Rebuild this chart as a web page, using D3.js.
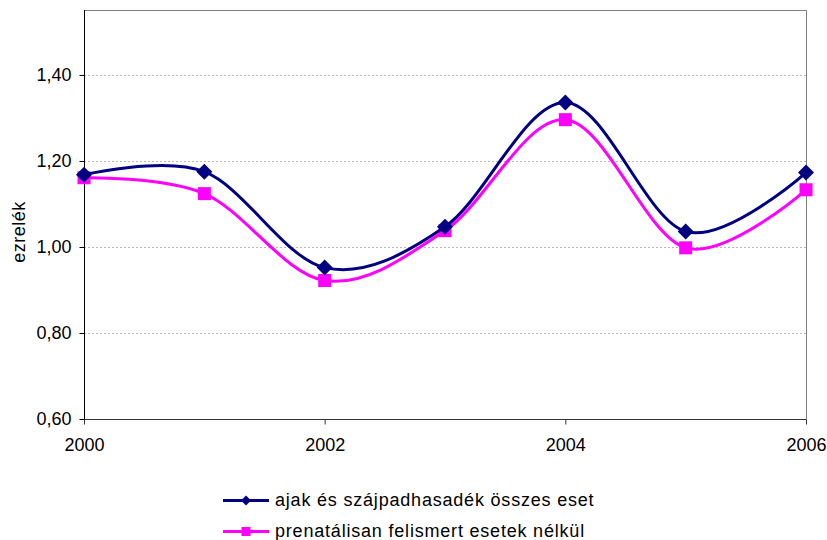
<!DOCTYPE html>
<html>
<head>
<meta charset="utf-8">
<script src="https://cdn.jsdelivr.net/npm/d3@7"></script>
<style>
  body { margin: 0; background: #fff; }
  svg { display: block; font-family: "Liberation Sans", Arial, sans-serif; }
</style>
</head>
<body>
<svg id="chart" width="827" height="540"></svg>
<script>
// Years on the x axis
const years = [2000, 2001, 2002, 2003, 2004, 2005, 2006];
// Rate per thousand births
const totalCases = [1.168, 1.175, 0.952, 1.047, 1.336, 1.036, 1.173];
const withoutPrenatal = [1.161, 1.124, 0.922, 1.038, 1.296, 0.998, 1.133];
const seriesNames = ["ajak és szájpadhasadék összes eset", "prenatálisan felismert esetek nélkül"];
const yTicks = [0.6, 0.8, 1.0, 1.2, 1.4];
const xTicks = [2000, 2002, 2004, 2006];

const svg = d3.select("#chart");
const plotLeft = 84, plotRight = 806, plotTop = 10, plotBottom = 419;
const fontFamily = "Liberation Sans, Arial, sans-serif";

const x = d3.scaleLinear().domain([2000, 2006]).range([plotLeft, plotRight]);
const y = d3.scaleLinear().domain([0.6, 1.551]).range([plotBottom, plotTop]);
const fmt = v => d3.format(".2f")(v).replace(".", ",");

// Gridlines
svg.append("g").selectAll("line")
  .data(yTicks.filter(v => v > 0.6))
  .join("line")
  .attr("x1", plotLeft).attr("x2", plotRight)
  .attr("y1", d => Math.round(y(d)) + 0.5).attr("y2", d => Math.round(y(d)) + 0.5)
  .attr("stroke", "#b8b8b8").attr("stroke-width", 1).attr("stroke-dasharray", "2,2");

// Top and right frame
svg.append("path")
  .attr("d", `M${plotLeft},${plotTop + 0.5}H${plotRight + 0.5}V${plotBottom}`)
  .attr("fill", "none").attr("stroke", "#808080").attr("stroke-width", 1);

// Y axis
const yAxis = svg.append("g")
  .attr("transform", `translate(${plotLeft + 0.5},0)`)
  .call(d3.axisLeft(y).tickValues(yTicks).tickFormat(fmt).tickSize(5).tickPadding(8));
yAxis.select(".domain").attr("stroke", "#000").attr("d", `M0,${plotTop}V${plotBottom + 0.5}`);
yAxis.selectAll(".tick line").attr("stroke", "#000");
yAxis.selectAll(".tick text").attr("font-size", 18).attr("fill", "#000")
  .attr("font-family", fontFamily);

// X axis
const xAxis = svg.append("g")
  .attr("transform", `translate(0,${plotBottom + 0.5})`)
  .call(d3.axisBottom(x).tickValues(xTicks).tickFormat(d3.format("d")).tickSize(5).tickPadding(14));
xAxis.select(".domain").attr("stroke", "#333").attr("d", `M${plotLeft},0H${plotRight + 0.5}`);
xAxis.selectAll(".tick line").attr("stroke", "#333");
xAxis.selectAll(".tick text").attr("font-size", 18).attr("fill", "#000")
  .attr("font-family", fontFamily);

// Y axis title
svg.append("text")
  .attr("transform", "translate(25,232) rotate(-90)")
  .attr("text-anchor", "middle")
  .attr("font-size", 18)
  .attr("letter-spacing", 0.5)
  .text("ezrelék");

const series = [
  { name: seriesNames[0], values: totalCases, color: "#000080", marker: "diamond" },
  { name: seriesNames[1], values: withoutPrenatal, color: "#ff00ff", marker: "square" }
];

const line = d3.line()
  .x((d, i) => x(years[i]))
  .y(d => y(d))
  .curve(d3.curveCardinal.tension(0));

function drawMarker(g, type, color, cx, cy) {
  if (type === "diamond") {
    g.append("path")
      .attr("d", `M${cx},${cy - 8}L${cx + 8},${cy}L${cx},${cy + 8}L${cx - 8},${cy}Z`)
      .attr("fill", color);
  } else {
    g.append("rect")
      .attr("x", cx - 6.5).attr("y", cy - 6.5).attr("width", 13).attr("height", 13)
      .attr("fill", color);
  }
}

// Draw the pink series first so the navy one sits on top
[series[1], series[0]].forEach(s => {
  const g = svg.append("g");
  g.append("path")
    .attr("d", line(s.values))
    .attr("fill", "none")
    .attr("stroke", s.color)
    .attr("stroke-width", 3);
  s.values.forEach((v, i) => drawMarker(g, s.marker, s.color, x(years[i]), y(v)));
});

// Legend
const legend = svg.append("g");
series.forEach((s, i) => {
  const ly = 500.5 + i * 31;
  const g = legend.append("g");
  g.append("line")
    .attr("x1", 223).attr("x2", 269).attr("y1", ly).attr("y2", ly)
    .attr("stroke", s.color).attr("stroke-width", 3);
  if (s.marker === "diamond") {
    g.append("path").attr("d", `M246,${ly - 5}L251,${ly}L246,${ly + 5}L241,${ly}Z`).attr("fill", s.color);
  } else {
    g.append("rect").attr("x", 241.5).attr("y", ly - 4.5).attr("width", 9).attr("height", 9).attr("fill", s.color);
  }
  g.append("text")
    .attr("x", 275).attr("y", ly + 5.5)
    .attr("font-size", 18)
    .attr("letter-spacing", 0.8)
    .text(s.name);
});
</script>
</body>
</html>
